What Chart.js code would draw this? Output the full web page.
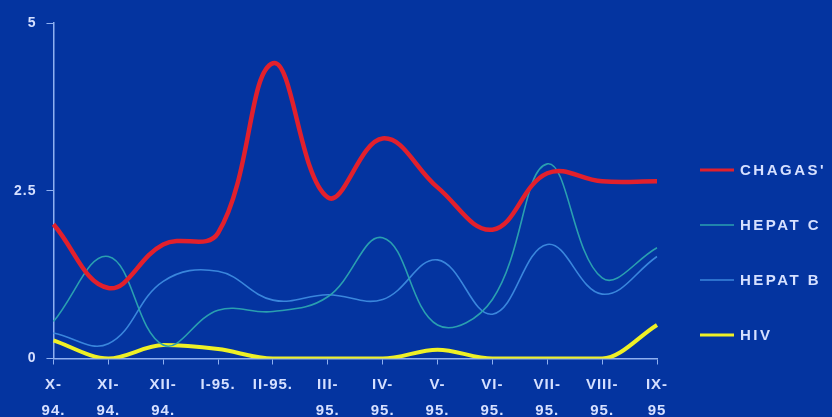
<!DOCTYPE html>
<html>
<head>
<meta charset="utf-8">
<script src="https://cdn.jsdelivr.net/npm/chart.js@4/dist/chart.umd.min.js"></script>
<style>
html,body{margin:0;padding:0;background:#0434a0;}
#wrap{width:832px;height:417px;position:relative;}
</style>
</head>
<body>
<div id="wrap"><canvas id="c" width="832" height="417"></canvas></div>
<script>
const categories = [["X-","94."],["XI-","94."],["XII-","94."],"I-95.","II-95.",["III-","95."],["IV-","95."],["V-","95."],["VI-","95."],["VII-","95."],["VIII-","95."],["IX-","95"]];
const chagas = [2.0, 1.05, 1.7, 1.87, 4.4, 2.4, 3.28, 2.55, 1.92, 2.76, 2.64, 2.64];
const hepatC = [0.55, 1.52, 0.2, 0.72, 0.7, 0.92, 1.8, 0.5, 0.88, 2.9, 1.2, 1.65];
const hepatB = [0.38, 0.22, 1.15, 1.3, 0.87, 0.95, 0.88, 1.47, 0.66, 1.7, 0.96, 1.52];
const hiv = [0.27, 0, 0.2, 0.14, 0, 0, 0, 0.13, 0, 0, 0, 0.5];
const yTicks = [0, 2.5, 5];

const axisColor = '#8fb0f0';
const textColor = '#d6e0ff';
const FONT = 'Liberation Sans, Arial, sans-serif';

const spacing = {
  id: 'spacing',
  beforeUpdate(chart) { chart.ctx.letterSpacing = '1px'; },
  beforeDraw(chart) { chart.ctx.letterSpacing = '1px'; }
};

const sideLegend = {
  id: 'sideLegend',
  afterDraw(chart) {
    const ctx = chart.ctx;
    ctx.save();
    ctx.letterSpacing = '2.5px';
    ctx.font = 'bold 15px ' + FONT;
    ctx.textBaseline = 'middle';
    ctx.textAlign = 'left';
    chart.data.datasets.forEach((ds, i) => {
      const y = 170 + 55 * i;
      ctx.strokeStyle = ds.borderColor;
      ctx.lineWidth = ds.legendWidth;
      ctx.beginPath();
      ctx.moveTo(700, y);
      ctx.lineTo(734, y);
      ctx.stroke();
      ctx.fillStyle = textColor;
      ctx.fillText(ds.label, 740, y + 1);
    });
    ctx.restore();
  }
};

new Chart(document.getElementById('c'), {
  type: 'line',
  data: {
    labels: categories,
    datasets: [
      {label: "CHAGAS'", data: chagas, borderColor: '#e2202c', backgroundColor: '#e2202c', borderWidth: 4.5, legendWidth: 3, tension: 0.4, pointRadius: 0},
      {label: 'HEPAT C', data: hepatC, borderColor: '#2a9fb0', backgroundColor: '#2a9fb0', borderWidth: 1.6, legendWidth: 1.5, tension: 0.4, pointRadius: 0},
      {label: 'HEPAT B', data: hepatB, borderColor: '#3a86dc', backgroundColor: '#3a86dc', borderWidth: 1.6, legendWidth: 1.5, tension: 0.4, pointRadius: 0},
      {label: 'HIV', data: hiv, borderColor: '#eef026', backgroundColor: '#eef026', borderWidth: 4, legendWidth: 3, cubicInterpolationMode: 'monotone', pointRadius: 0}
    ]
  },
  options: {
    responsive: false,
    animation: false,
    devicePixelRatio: 1,
    layout: {padding: {top: 23, left: 4, right: 175, bottom: -14}},
    plugins: {
      legend: {display: false},
      tooltip: {enabled: false}
    },
    scales: {
      x: {
        offset: false,
        grid: {display: true, drawOnChartArea: false, drawTicks: true, tickLength: 6, color: axisColor},
        border: {display: true, color: axisColor, width: 1.5},
        ticks: {color: textColor, font: {family: FONT, size: 15, weight: 'bold', lineHeight: 1.75}, maxRotation: 0, autoSkip: false, padding: 7}
      },
      y: {
        min: 0, max: 5,
        afterBuildTicks(axis) { axis.ticks = yTicks.map(v => ({value: v})); },
        grid: {display: true, drawOnChartArea: false, drawTicks: true, tickLength: 7, color: axisColor},
        border: {display: true, color: axisColor, width: 1.5},
        ticks: {color: textColor, font: {family: FONT, size: 14, weight: 'bold'}, padding: 10, callback: v => String(v)}
      }
    }
  },
  plugins: [spacing, sideLegend]
});
</script>
</body>
</html>
